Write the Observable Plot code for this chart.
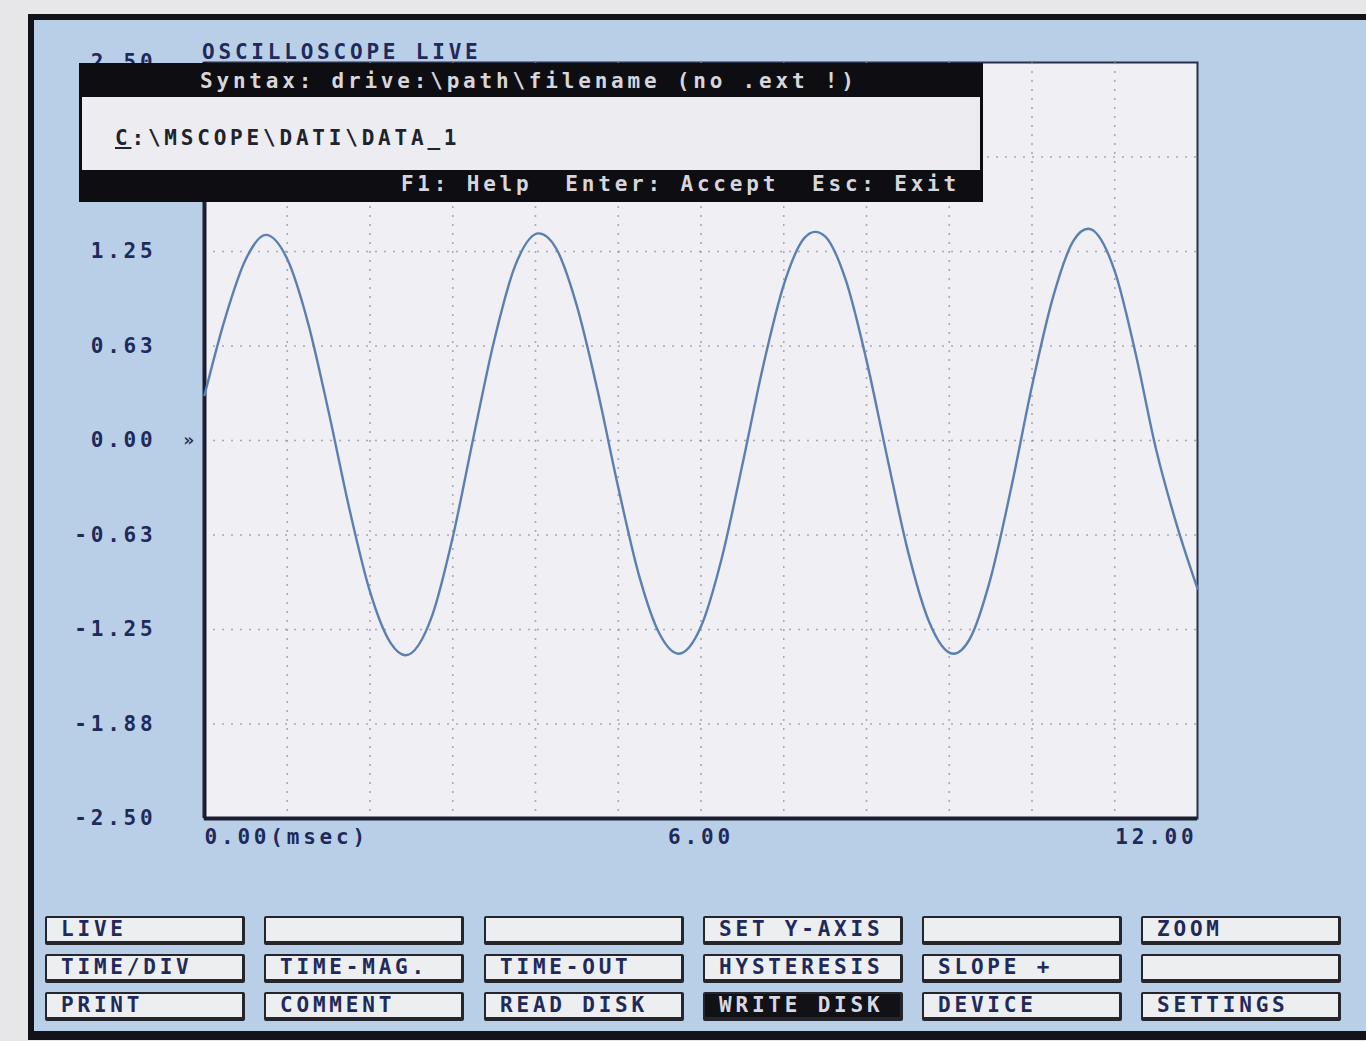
<!DOCTYPE html>
<html>
<head>
<meta charset="utf-8">
<script src="https://cdn.jsdelivr.net/npm/d3@7"></script>
<script src="https://cdn.jsdelivr.net/npm/@observablehq/plot@0.6"></script>
<style>
html,body{margin:0;padding:0;}
body{width:1366px;height:1041px;background:#e7e7ea;position:relative;overflow:hidden;
  font-family:"DejaVu Sans Mono",monospace;font-weight:bold;font-size:21px;letter-spacing:3.8px;}
#panel{position:absolute;left:28px;top:14px;width:1345px;height:1011px;background:#b9cfe7;
  border:6px solid #121218;border-right:none;border-bottom-width:9px;}
#chart{position:absolute;left:0;top:0;}
#title{position:absolute;left:202px;top:39px;line-height:26px;color:#1f2a5a;white-space:pre;}
#dialog{position:absolute;left:79px;top:63px;width:898px;height:133px;border:3px solid #0d0d10;background:#ececf1;}
#dialog .bar{background:#0e0e12;color:#d6d6dc;white-space:pre;}
#dialog .top{height:31px;line-height:31px;padding-left:118px;}
#dialog .mid{height:64px;line-height:64px;padding-top:9px;padding-left:33px;color:#20222c;white-space:pre;}
#dialog .bot{height:29px;line-height:29px;text-align:right;padding-right:20px;}
.btn{position:absolute;width:181px;height:23px;line-height:23px;background:#eceef0;
  border:2px solid #25252e;border-bottom-width:4px;border-right-width:3px;border-radius:2px;
  padding-left:14px;box-sizing:content-box;color:#1f2a5a;white-space:pre;overflow:hidden;}
.btn.inv{background:#111116;color:#d8d8e2;}
</style>
</head>
<body>
<div id="panel"></div>
<div id="chart"></div>
<div id="title">OSCILLOSCOPE LIVE</div>
<div id="dialog">
  <div class="bar top">Syntax: drive:\path\filename (no .ext !)</div>
  <div class="mid"><u>C</u>:\MSCOPE\DATI\DATA_1</div>
  <div class="bar bot">F1: Help  Enter: Accept  Esc: Exit</div>
</div>
<div id="buttons"></div>
<script>
// ---- data ----
const timeMs = [0, 0.25, 0.5, 0.74, 1.0, 1.25, 1.5, 1.75, 2.0, 2.25, 2.43, 2.75, 3.0, 3.25, 3.5, 3.75, 4.04,
  4.25, 4.5, 4.75, 5.0, 5.25, 5.5, 5.73, 6.0, 6.25, 6.5, 6.75, 7.0, 7.25, 7.38, 7.5, 7.75, 8.0, 8.25, 8.5,
  8.75, 9.05, 9.25, 9.5, 9.75, 10.0, 10.25, 10.5, 10.68, 11.0, 11.25, 11.5, 11.75, 12.0];
const voltage = [0.30, 0.81, 1.20, 1.36, 1.20, 0.78, 0.19, -0.45, -1.00, -1.34, -1.42, -1.16, -0.64, 0.02, 0.66, 1.15, 1.37,
  1.27, 0.89, 0.33, -0.31, -0.89, -1.28, -1.41, -1.23, -0.78, -0.16, 0.49, 1.03, 1.34, 1.38, 1.35, 1.06, 0.53, -0.11, -0.73,
  -1.19, -1.41, -1.31, -0.91, -0.31, 0.36, 0.94, 1.32, 1.40, 1.12, 0.58, -0.06, -0.56, -0.98];

// tick labels visible in the picture (the 1.88 label at the top is hidden behind the dialog)
const yTicks = [2.5, 1.25, 0.625, 0, -0.625, -1.25, -1.875, -2.5];
const yTickLabels = ["2.50", "1.25", "0.63", "0.00", "-0.63", "-1.25", "-1.88", "-2.50"];
const xTicks = [0, 6, 12];
const xTickLabels = ["0.00(msec)", "6.00", "12.00"];
const gridTimes = [1, 2, 3, 4, 5, 6, 7, 8, 9, 10, 11];
const gridVolts = [1.875, 1.25, 0.625, 0, -0.625, -1.25, -1.875];

const buttonRows = [
  ["LIVE", "", "", "SET Y-AXIS", "", "ZOOM"],
  ["TIME/DIV", "TIME-MAG.", "TIME-OUT", "HYSTERESIS", "SLOPE +", ""],
  ["PRINT", "COMMENT", "READ DISK", "WRITE DISK", "DEVICE", "SETTINGS"]
];
const activeButton = "WRITE DISK";

// ---- chart ----
const samples = timeMs.map((t, i) => ({t, v: voltage[i]}));
const yLabel = new Map(yTicks.map((d, i) => [d, yTickLabels[i]]));
const gridStyle = {stroke: "#8c8c9c", strokeOpacity: 0.7, strokeWidth: 1.6, strokeDasharray: "2 7"};
const ink = "#1f2a5a";

const chart = Plot.plot({
  width: 1366, height: 1041,
  marginLeft: 204, marginRight: 169, marginTop: 62, marginBottom: 223,
  x: {domain: [0, 12], axis: null},
  y: {domain: [-2.5, 2.5], label: null},
  style: {background: "transparent", fontFamily: "DejaVu Sans Mono, monospace", fontWeight: "bold",
          fontSize: "21px", letterSpacing: "3.8px", color: ink, overflow: "visible"},
  marks: [
    Plot.frame({fill: "#efeff4", stroke: "#2a2f48", strokeWidth: 2}),
    Plot.gridX(gridTimes, gridStyle),
    Plot.gridY(gridVolts, gridStyle),
    Plot.ruleX([0], {stroke: "#1a1e33", strokeWidth: 4}),
    Plot.ruleY([-2.5], {stroke: "#1a1e33", strokeWidth: 4}),
    Plot.line(samples, {x: "t", y: "v", stroke: "#5a80b0", strokeWidth: 2.4, curve: "monotone-x"}),
    Plot.axisY(yTicks, {tickSize: 0, tickPadding: 48, label: null, tickFormat: d => yLabel.get(d), fontSize: 21, fill: ink}),
    Plot.text([0], {x: 0, y: 0, text: () => "»", dx: -14, fontSize: 18, fill: ink}),
    Plot.text([xTicks[0]], {x: d => d, frameAnchor: "bottom", dy: 25, textAnchor: "start", text: () => xTickLabels[0], fontSize: 21, fill: ink}),
    Plot.text([xTicks[1]], {x: d => d, frameAnchor: "bottom", dy: 25, textAnchor: "middle", text: () => xTickLabels[1], fontSize: 21, fill: ink}),
    Plot.text([xTicks[2]], {x: d => d, frameAnchor: "bottom", dy: 25, textAnchor: "end", text: () => xTickLabels[2], fontSize: 21, fill: ink})
  ]
});
document.getElementById("chart").append(chart);

// ---- soft-key buttons ----
const colX = [45, 264, 484, 703, 922, 1141];
const rowY = [916, 954, 992];
const holder = document.getElementById("buttons");
buttonRows.forEach((row, r) => row.forEach((label, c) => {
  const b = document.createElement("div");
  b.className = "btn" + (label === activeButton ? " inv" : "");
  b.style.left = colX[c] + "px";
  b.style.top = rowY[r] + "px";
  b.textContent = label;
  holder.append(b);
}));
</script>
</body>
</html>
